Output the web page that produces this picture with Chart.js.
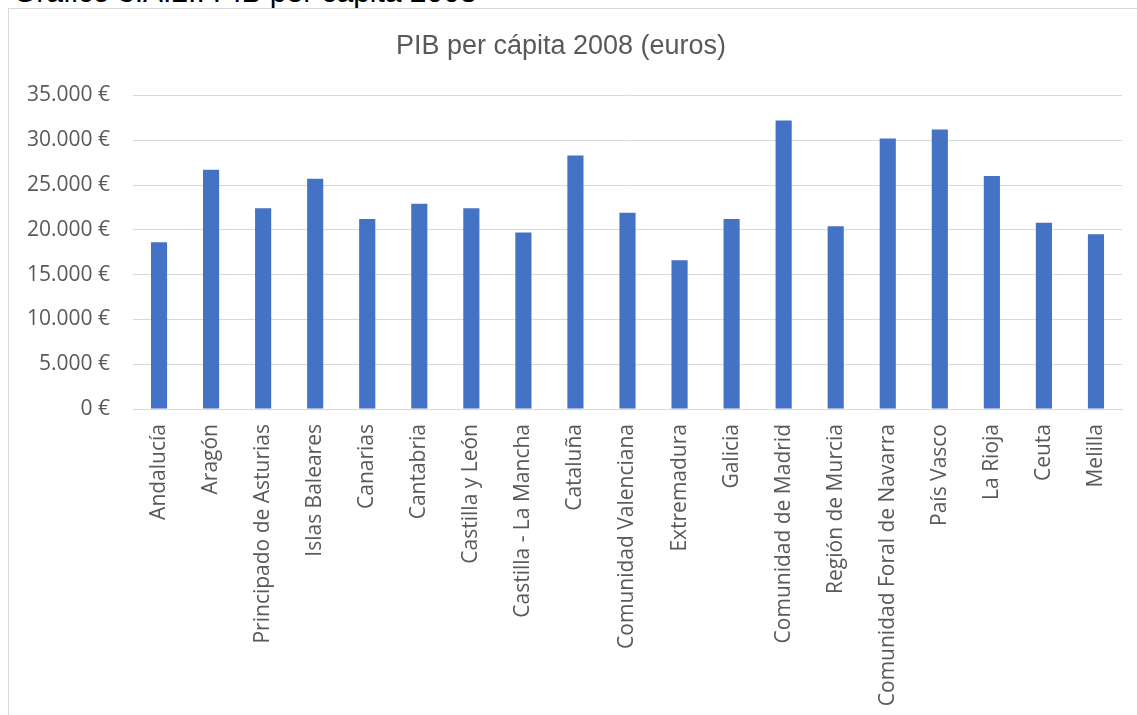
<!DOCTYPE html>
<html>
<head>
<meta charset="utf-8">
<script src="https://cdn.jsdelivr.net/npm/chart.js@4/dist/chart.umd.min.js"></script>
<style>
  html, body { margin: 0; padding: 0; background: #fff; overflow: hidden; }
  body { width: 1137px; height: 715px; position: relative; }
  #caption { position: absolute; left: 13px; top: -25px; font: 30px "Liberation Sans", Arial, sans-serif; color: #000; white-space: nowrap; }
  #frame { position: absolute; left: 8px; top: 8px; width: 1200px; height: 800px; border: 1px solid #d9d9d9; box-sizing: border-box; }
  #wrap { position: absolute; left: 0; top: 0; width: 1166px; height: 715px; }
</style>
</head>
<body>
<div id="caption">Gráfico 3.A.2.: PIB per cápita 2008</div>
<div id="frame"></div>
<div id="wrap"><canvas id="pibChart"></canvas></div>
<script>
// PIB per cápita 2008 por comunidad autónoma (euros)
var regiones = ["Andalucía", "Aragón", "Principado de Asturias", "Islas Baleares", "Canarias",
  "Cantabria", "Castilla y León", "Castilla - La Mancha", "Cataluña", "Comunidad Valenciana",
  "Extremadura", "Galicia", "Comunidad de Madrid", "Región de Murcia", "Comunidad Foral de Navarra",
  "País Vasco", "La Rioja", "Ceuta", "Melilla"];
var pibPerCapita = [18600, 26700, 22400, 25700, 21200,
  22900, 22400, 19700, 28300, 21900,
  16600, 21200, 32200, 20400, 30200,
  31200, 26000, 20800, 19500];
var yMax = 35000;
var yStep = 5000;

function euros(v) {
  return String(v).replace(/\B(?=(\d{3})+(?!\d))/g, ".") + " €";
}

var ctx = document.getElementById("pibChart").getContext("2d");
var chart = new Chart(ctx, {
  type: "bar",
  data: {
    labels: regiones,
    datasets: [{
      label: "PIB per cápita 2008",
      data: pibPerCapita,
      backgroundColor: "#4472C4",
      borderWidth: 0,
      categoryPercentage: 1,
      barPercentage: 0.31
    }]
  },
  options: {
    responsive: true,
    maintainAspectRatio: false,
    animation: false,
    layout: { padding: { left: 0, right: 44, top: 0, bottom: 0 } },
    plugins: {
      legend: { display: false },
      tooltip: { enabled: false },
      title: {
        display: true,
        text: "PIB per cápita 2008 (euros)",
        color: "#595959",
        font: { family: "'Liberation Sans', Arial, sans-serif", size: 27, weight: "normal", lineHeight: 1.2 },
        padding: { top: 30, bottom: 33 }
      }
    },
    scales: {
      x: {
        grid: { display: false, drawTicks: false },
        border: { display: true, color: "#d9d9d9", width: 1 },
        ticks: {
          color: "#595959",
          font: { family: "'Open Sans', sans-serif", size: 21 },
          minRotation: 90,
          maxRotation: 90,
          autoSkip: false,
          padding: 15
        },
        afterFit: function (scale) { scale.height = 306; }
      },
      y: {
        min: 0,
        max: yMax,
        grid: { color: "#d9d9d9", lineWidth: 1, drawTicks: false },
        border: { display: false },
        ticks: {
          stepSize: yStep,
          color: "#595959",
          font: { family: "'Open Sans', sans-serif", size: 21 },
          padding: 23,
          callback: function (v) { return euros(v); }
        },
        afterFit: function (scale) { scale.width = 133; }
      }
    }
  }
});
</script>
</body>
</html>
